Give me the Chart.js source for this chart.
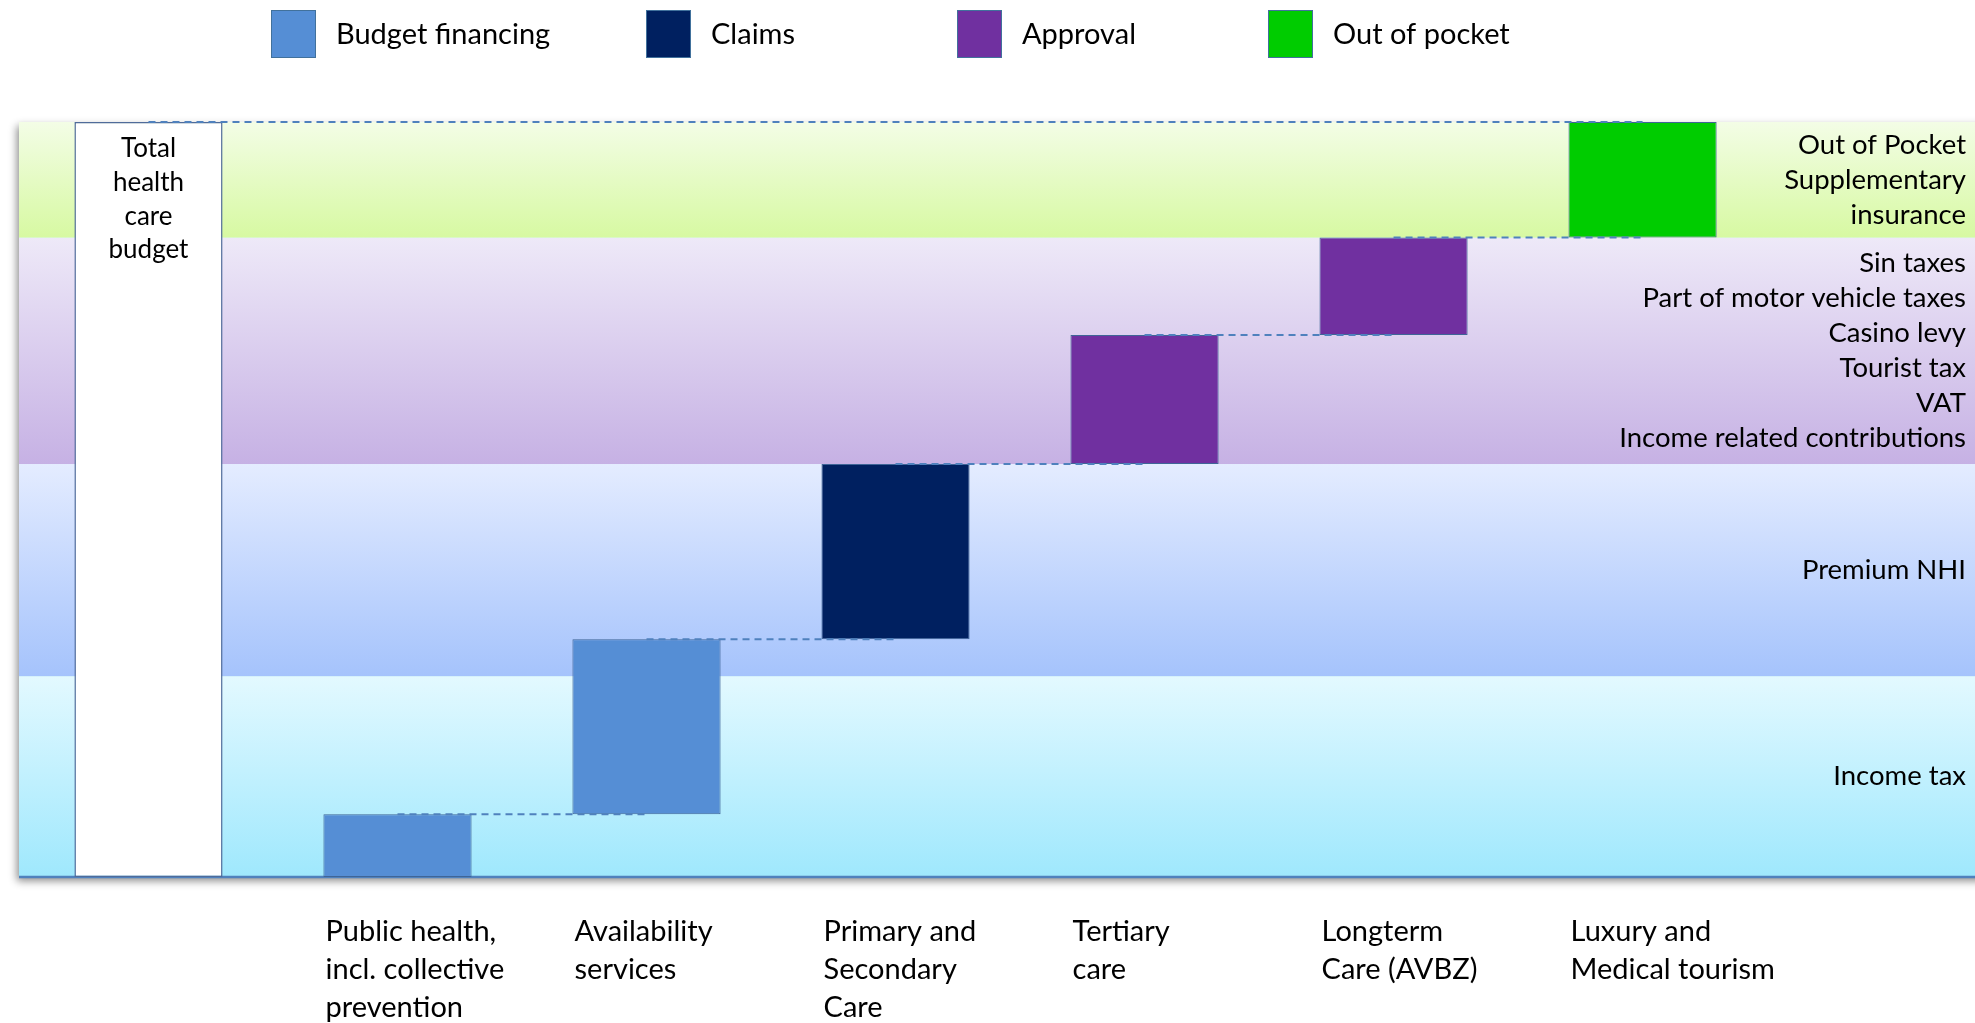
<!DOCTYPE html>
<html lang="en">
<head>
<meta charset="UTF-8" />
<title>Health care financing</title>
<script src="https://cdn.jsdelivr.net/npm/chart.js@4.4.1/dist/chart.umd.min.js"></script>
<style>
  html, body { margin: 0; padding: 0; background: #fff; }
  #wrap { position: relative; width: 1975px; height: 1023px; }
</style>
</head>
<body>
<div id="wrap"><canvas id="chart" width="1975" height="1023"></canvas></div>
<script>
// Spending blocks, as a share of the total health care budget (%)
const totalLabel = ['Total', 'health', 'care', 'budget'];
const totalBudget = 100;
const categories = [
  ['Public health,', 'incl. collective', 'prevention'],
  ['Availability', 'services'],
  ['Primary and', 'Secondary', 'Care'],
  ['Tertiary', 'care'],
  ['Longterm', 'Care (AVBZ)'],
  ['Luxury and', 'Medical tourism'],
];
const spending = [8.3, 23.2, 23.2, 17.1, 12.9, 15.3];
// which payment mechanism each block uses (index into payerTypes)
const payer = [0, 0, 1, 2, 2, 3];
const payerTypes = ['Budget financing', 'Claims', 'Approval', 'Out of pocket'];

// Funding sources, stacked from the bottom (%)
const sourceShares = [26.6, 28.1, 30.0, 15.3];
const sourceLabels = [
  ['Income tax'],
  ['Premium NHI'],
  ['Sin taxes', 'Part of motor vehicle taxes', 'Casino levy', 'Tourist tax', 'VAT', 'Income related contributions'],
  ['Out of Pocket', 'Supplementary', 'insurance'],
];

const PAYER_COLORS = ['#558ED5', '#002060', '#7030A0', '#00CC00'];
// [top, bottom] gradient stops per funding band
const BAND_SHADES = [
  ['#e3f9ff', '#9fe8fd'],
  ['#e4ecff', '#a5c3fc'],
  ['#eee9f8', '#c6b1e4'],
  ['#f3fde6', '#d7f9a2'],
];
const FONT = 'Lato, "Open Sans", sans-serif';

function cumulative(values) {
  let run = 0;
  return values.map((v) => { const lo = run; run += v; return [lo, run]; });
}

const steps = cumulative(spending).map((r, i) => ({ x: i + 1, y: r }));
const bands = cumulative(sourceShares);

const bandsPlugin = {
  id: 'bands',
  beforeDraw(chart) {
    const { ctx, chartArea: a, scales: { y } } = chart;
    ctx.save();
    // soft drop shadow under the panel
    ctx.shadowColor = 'rgba(0,0,0,0.45)';
    ctx.shadowBlur = 8;
    ctx.shadowOffsetX = -2;
    ctx.shadowOffsetY = 4;
    ctx.fillStyle = '#cfe';
    ctx.fillRect(a.left, a.top, a.right - a.left + 20, a.bottom - a.top);
    ctx.restore();
    ctx.save();
    bands.forEach(([lo, hi], i) => {
      const top = y.getPixelForValue(hi);
      const bottom = y.getPixelForValue(lo);
      const g = ctx.createLinearGradient(0, top, 0, bottom);
      g.addColorStop(0, BAND_SHADES[i][0]);
      g.addColorStop(1, BAND_SHADES[i][1]);
      ctx.fillStyle = g;
      ctx.fillRect(a.left, top, a.right - a.left, bottom - top);
    });
    ctx.strokeStyle = '#4F81BD';
    ctx.lineWidth = 2.5;
    ctx.beginPath();
    ctx.moveTo(a.left, a.bottom);
    ctx.lineTo(a.right, a.bottom);
    ctx.stroke();
    ctx.restore();
  },
};

const connectorPlugin = {
  id: 'connectors',
  afterDatasetsDraw(chart) {
    const { ctx, scales: { y } } = chart;
    const total = chart.getDatasetMeta(0).data[0];
    const bars = chart.getDatasetMeta(1).data;
    ctx.save();
    ctx.strokeStyle = '#4F81BD';
    ctx.lineWidth = 2;
    ctx.setLineDash([7, 5]);
    const line = (x0, x1, yy) => {
      ctx.beginPath();
      ctx.moveTo(x0, yy);
      ctx.lineTo(x1, yy);
      ctx.stroke();
    };
    line(total.x, bars[bars.length - 1].x, y.getPixelForValue(totalBudget));
    for (let i = 0; i < bars.length - 1; i++) {
      line(bars[i].x, bars[i + 1].x, y.getPixelForValue(steps[i].y[1]));
    }
    ctx.restore();
  },
};

const textPlugin = {
  id: 'texts',
  afterDraw(chart) {
    const { ctx, chartArea: a, scales: { y } } = chart;
    ctx.save();
    ctx.fillStyle = '#000';
    ctx.textBaseline = 'middle';

    // label inside the total bar
    const total = chart.getDatasetMeta(0).data[0];
    ctx.font = `26px ${FONT}`;
    ctx.textAlign = 'center';
    totalLabel.forEach((t, i) => ctx.fillText(t, total.x, total.y + 27 + i * 33.6));

    // funding sources, right aligned and centred in each band
    ctx.font = `27.5px ${FONT}`;
    ctx.textAlign = 'right';
    const lh = 35;
    bands.forEach(([lo, hi], i) => {
      const mid = (y.getPixelForValue(lo) + y.getPixelForValue(hi)) / 2;
      const lines = sourceLabels[i];
      const start = mid - ((lines.length - 1) * lh) / 2;
      lines.forEach((t, j) => ctx.fillText(t, a.right - 9, start + j * lh));
    });

    // legend row
    const legendX = [271, 646, 957, 1268];
    ctx.font = `29px ${FONT}`;
    ctx.textAlign = 'left';
    payerTypes.forEach((name, i) => {
      const x = legendX[i];
      ctx.fillStyle = PAYER_COLORS[i];
      ctx.fillRect(x, 10, 45, 48);
      ctx.strokeStyle = '#41719C';
      ctx.lineWidth = 1;
      ctx.strokeRect(x + 0.5, 10.5, 44, 47);
      ctx.fillStyle = '#000';
      ctx.fillText(name, x + 65, 35);
    });
    ctx.restore();
  },
};

new Chart(document.getElementById('chart'), {
  type: 'bar',
  data: {
    datasets: [
      {
        label: 'Total health care budget',
        data: [{ x: 0, y: [0, totalBudget] }],
        backgroundColor: '#ffffff',
        borderColor: '#4F6B9A',
        borderWidth: 1.5,
      },
      {
        label: 'Spending',
        data: steps,
        backgroundColor: payer.map((p) => PAYER_COLORS[p]),
        borderColor: '#3F6597',
        borderWidth: 1,
      },
    ],
  },
  options: {
    responsive: false,
    animation: false,
    devicePixelRatio: 1,
    layout: { padding: { top: 122, left: 19, right: 0, bottom: 0 } },
    datasets: {
      bar: {
        grouped: false,
        borderSkipped: false,
        categoryPercentage: 1,
        barPercentage: 0.595,
      },
    },
    scales: {
      x: {
        type: 'linear',
        offset: false,
        min: -0.52,
        max: 7.335,
        grid: { display: false, drawTicks: false, offset: false },
        border: { display: false },
        afterBuildTicks: (scale) => {
          scale.ticks = categories.map((c, i) => ({ value: i + 1 }));
        },
        afterFit: (scale) => { scale.height = 146; },
        ticks: {
          autoSkip: false,
          maxRotation: 0,
          align: 'start',
          labelOffset: -72,
          padding: 36,
          color: '#000',
          font: { family: FONT, size: 29, lineHeight: 1.31 },
          callback: (v) => categories[v - 1] || '',
        },
      },
      y: { display: false, min: 0, max: totalBudget },
    },
    plugins: {
      legend: { display: false },
      tooltip: { enabled: false },
    },
  },
  plugins: [bandsPlugin, connectorPlugin, textPlugin],
});
</script>
</body>
</html>
